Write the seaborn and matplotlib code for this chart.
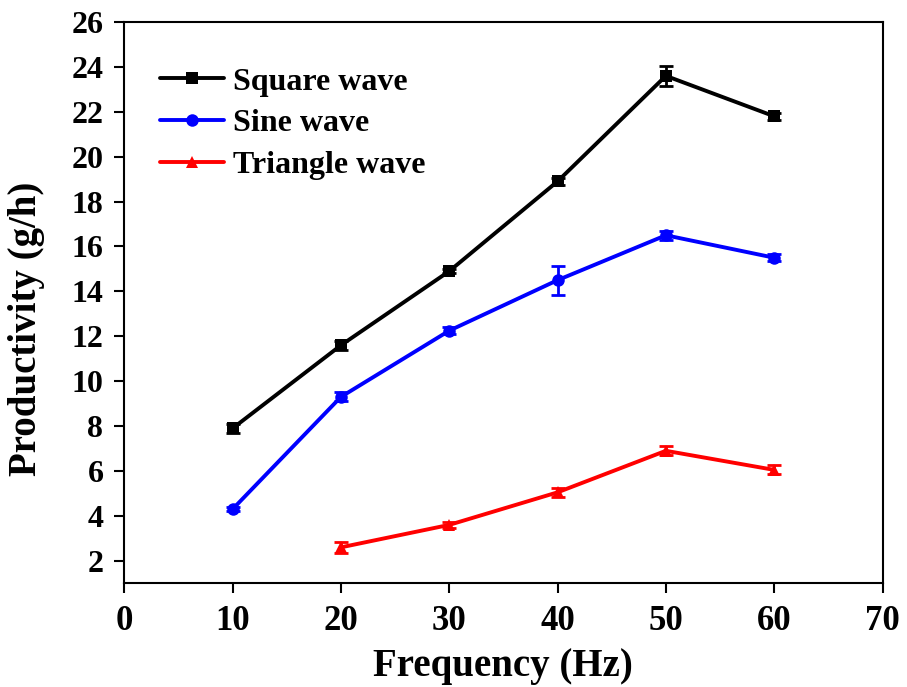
import numpy as np
import pandas as pd
import seaborn as sns
import matplotlib.pyplot as plt

# data
freq_square = [10, 20, 30, 40, 50, 60]
prod_square = [7.9, 11.6, 14.9, 18.9, 23.6, 21.8]
err_square = [0.2, 0.2, 0.1, 0.15, 0.45, 0.15]

freq_sine = [10, 20, 30, 40, 50, 60]
prod_sine = [4.3, 9.3, 12.25, 14.5, 16.5, 15.5]
err_sine = [0.1, 0.2, 0.15, 0.65, 0.2, 0.15]

freq_tri = [20, 30, 40, 50, 60]
prod_tri = [2.6, 3.6, 5.05, 6.9, 6.05]
err_tri = [0.25, 0.15, 0.2, 0.2, 0.2]

series_names = ["Square wave", "Sine wave", "Triangle wave"]

df = pd.concat([
    pd.DataFrame({"freq": freq_square, "prod": prod_square, "err": err_square, "series": series_names[0]}),
    pd.DataFrame({"freq": freq_sine, "prod": prod_sine, "err": err_sine, "series": series_names[1]}),
    pd.DataFrame({"freq": freq_tri, "prod": prod_tri, "err": err_tri, "series": series_names[2]}),
], ignore_index=True)

sns.set_style("ticks", {"axes.edgecolor": "black", "text.color": "black",
                        "xtick.color": "black", "ytick.color": "black",
                        "axes.labelcolor": "black"})
plt.rcParams['font.family'] = ['Liberation Serif', 'DejaVu Serif']
plt.rcParams['font.weight'] = 'bold'

colors = {"Square wave": "#000000", "Sine wave": "#0000ff", "Triangle wave": "#ff0000"}
markers = {"Square wave": "s", "Sine wave": "o", "Triangle wave": "^"}

fig = plt.figure(figsize=(9.07, 6.87), dpi=100)
ax = fig.add_axes([0.137, 0.151, 0.836, 0.817])

sns.lineplot(data=df, x="freq", y="prod", hue="series", style="series",
             palette=colors, markers=markers, dashes=False, linewidth=2.8,
             markersize=9, markeredgewidth=0, ax=ax)

for name in series_names:
    sub = df[df["series"] == name]
    ax.errorbar(sub["freq"], sub["prod"], yerr=sub["err"], fmt="none",
                ecolor=colors[name], elinewidth=2, capsize=5, capthick=2)

ax.set_xlim(0, 70)
ax.set_ylim(1, 26)
ax.set_xticks(np.arange(0, 71, 10))
ax.set_yticks(np.arange(2, 27, 2))
ax.tick_params(direction="out", length=7, width=1.5)
ax.tick_params(axis="x", labelsize=25, pad=9)
ax.tick_params(axis="y", labelsize=23, pad=8)
for lbl in ax.get_xticklabels() + ax.get_yticklabels():
    lbl.set_fontweight("bold")
for sp in ax.spines.values():
    sp.set_linewidth(1.5)
    sp.set_visible(True)

ax.set_xlabel("Frequency (Hz)", fontsize=28, fontweight="bold", labelpad=7)
ax.set_ylabel("Productivity (g/h)", fontsize=28, fontweight="bold")
ax.yaxis.set_label_coords(-0.104, 0.453)

leg = ax.legend(loc="upper left", bbox_to_anchor=(0.03, 0.942), frameon=False,
                prop={"size": 23, "weight": "bold"}, handlelength=2.0,
                handletextpad=0.3, labelspacing=0.39, borderaxespad=0)

fig.savefig("out.png", dpi=100)
